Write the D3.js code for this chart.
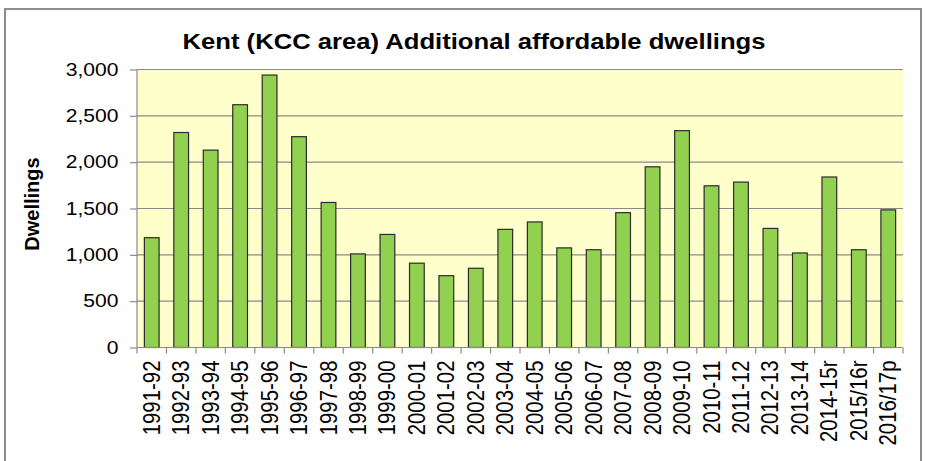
<!DOCTYPE html>
<html><head><meta charset="utf-8">
<script src="https://cdn.jsdelivr.net/npm/d3@7/dist/d3.min.js"></script>
<style>body{margin:0;background:#fff}svg{display:block;font-family:"Liberation Sans",Arial,sans-serif}</style>
</head><body><svg id="c" width="926" height="461"></svg>
<script>
const categories = ["1991-92","1992-93","1993-94","1994-95","1995-96","1996-97","1997-98","1998-99","1999-00","2000-01","2001-02","2002-03","2003-04","2004-05","2005-06","2006-07","2007-08","2008-09","2009-10","2010-11","2011-12","2012-13","2013-14","2014-15r","2015/16r","2016/17p"];
const dwellings = [1185,2320,2130,2620,2940,2275,1565,1010,1220,910,775,855,1275,1355,1075,1055,1455,1950,2340,1745,1785,1285,1020,1840,1055,1485];
const yTicks = [0,500,1000,1500,2000,2500,3000];
const title = "Kent (KCC area) Additional affordable dwellings";
const yTitle = "Dwellings";

const SX = 1.14; // horizontal text stretch seen in the reference
const svg = d3.select("#c");
const m = {left:137, right:903, top:69.5, bottom:347.5};
const x = d3.scaleBand().domain(categories).range([m.left, m.right]).paddingInner(0.5).paddingOuter(0.25);
const y = d3.scaleLinear().domain([0,3000]).range([m.bottom, m.top]);
const fmt = d3.format(",");

// outer frame
svg.append("rect").attr("x",5).attr("y",9).attr("width",916).attr("height",470)
  .attr("fill","none").attr("stroke","#8c8c8c").attr("stroke-width",2);

// plot bg
svg.append("rect").attr("x",m.left).attr("y",m.top).attr("width",m.right-m.left).attr("height",m.bottom-m.top).attr("fill","#FFFFCC");

// gridlines
svg.append("g").selectAll("line").data(yTicks.filter(d=>d>0)).join("line")
  .attr("x1",m.left).attr("x2",m.right).attr("y1",d=>y(d)).attr("y2",d=>y(d))
  .attr("stroke","#8a8a8a").attr("stroke-width",1.2);

// bars
svg.append("g").selectAll("rect").data(dwellings).join("rect")
  .attr("x",(d,i)=>x(categories[i])).attr("width",x.bandwidth())
  .attr("y",d=>y(d)).attr("height",d=>y(0)-y(d))
  .attr("fill","#92D050").attr("stroke","#2b2b2b").attr("stroke-width",1.2);

// y axis
const ya = d3.axisLeft(y).tickValues(yTicks).tickFormat("").tickSize(7);
const gy = svg.append("g").attr("transform",`translate(${m.left},0)`).call(ya);
gy.select(".domain").attr("stroke","#8a8a8a").attr("stroke-width",1.2).attr("d",`M0,${m.top}V${m.bottom}`);
gy.selectAll(".tick line").attr("stroke","#8a8a8a").attr("stroke-width",1.2);
svg.append("g").selectAll("text").data(yTicks).join("text")
  .attr("transform",d=>`translate(118.5,${y(d)+6.3}) scale(${SX},1)`)
  .attr("text-anchor","end").attr("font-size",18.5).attr("fill","#000").text(d=>fmt(d));

// x axis
const gx = svg.append("g").attr("transform",`translate(0,${m.bottom})`);
gx.append("line").attr("x1",m.left).attr("x2",m.right).attr("stroke","#8a8a8a").attr("stroke-width",1.2);
const bounds = d3.range(categories.length+1).map(i=>m.left + i*(m.right-m.left)/categories.length);
gx.selectAll("line.tk").data(bounds).join("line").attr("class","tk")
  .attr("x1",d=>d).attr("x2",d=>d).attr("y1",0).attr("y2",6).attr("stroke","#8a8a8a").attr("stroke-width",1.2);
svg.append("g").selectAll("text").data(categories).join("text")
  .attr("transform",d=>`translate(${x(d)+x.bandwidth()/2+8},360.5) scale(${SX},1) rotate(-90)`)
  .attr("text-anchor","end").attr("font-size",20.4).attr("fill","#000").text(d=>d);

// title
svg.append("text").attr("transform",`translate(474,48.5) scale(${SX},1)`).attr("text-anchor","middle")
  .attr("font-size",22.5).attr("font-weight","bold").text(title);
svg.append("text").attr("transform",`translate(38.5,204) rotate(-90)`).attr("text-anchor","middle")
  .attr("font-size",20).attr("font-weight","bold").text(yTitle);
</script></body></html>
